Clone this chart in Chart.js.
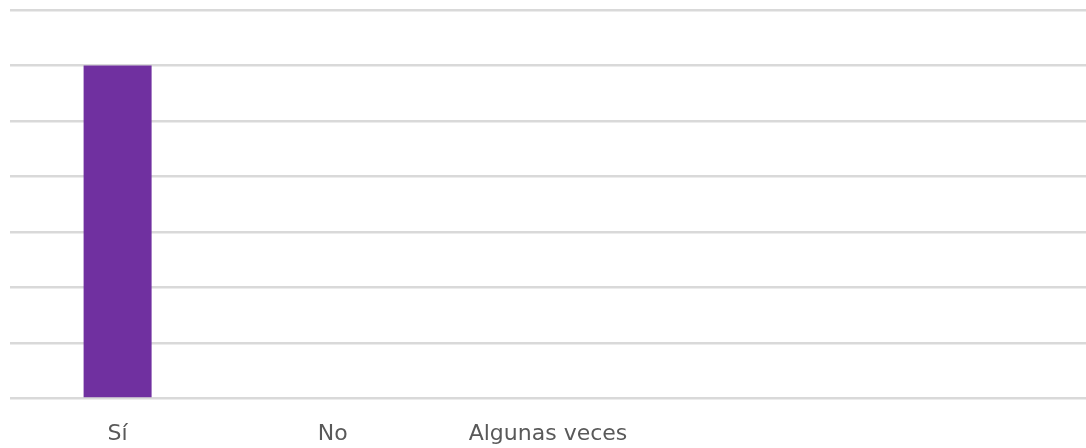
<!DOCTYPE html>
<html>
<head>
<meta charset="utf-8">
<script src="https://cdn.jsdelivr.net/npm/chart.js@4/dist/chart.umd.min.js"></script>
<style>
  html, body { margin: 0; padding: 0; background: #ffffff; }
  #wrap { width: 1086px; height: 448px; }
</style>
</head>
<body>
<div id="wrap"><canvas id="chart" width="1086" height="448"></canvas></div>
<script>
// Answers to the survey question and how many people chose each
const categories = ["Sí", "No", "Algunas veces", "", ""];
const counts = [6, 0, 0, null, null];
const yMin = 0;
const yMax = 7;
const yStep = 1;

const barColor = "#7030a0";
const gridColor = "#d9d9d9";
const labelColor = "#595959";

new Chart(document.getElementById("chart"), {
  type: "bar",
  data: {
    labels: categories,
    datasets: [{
      data: counts,
      backgroundColor: barColor,
      borderWidth: 0,
      categoryPercentage: 1.0,
      barPercentage: 0.316
    }]
  },
  options: {
    responsive: false,
    animation: false,
    layout: { padding: { top: 10, left: 10, right: 0, bottom: -21 } },
    plugins: {
      legend: { display: false },
      tooltip: { enabled: false }
    },
    scales: {
      x: {
        grid: { display: false, drawTicks: false },
        border: { display: false },
        ticks: {
          color: labelColor,
          font: { family: "'DejaVu Sans', sans-serif", size: 22 },
          padding: 22,
          maxRotation: 0,
          autoSkip: false
        }
      },
      y: {
        min: yMin,
        max: yMax,
        ticks: { stepSize: yStep, display: false },
        grid: { color: gridColor, lineWidth: 2.5, drawTicks: false },
        border: { display: false }
      }
    }
  }
});
</script>
</body>
</html>
